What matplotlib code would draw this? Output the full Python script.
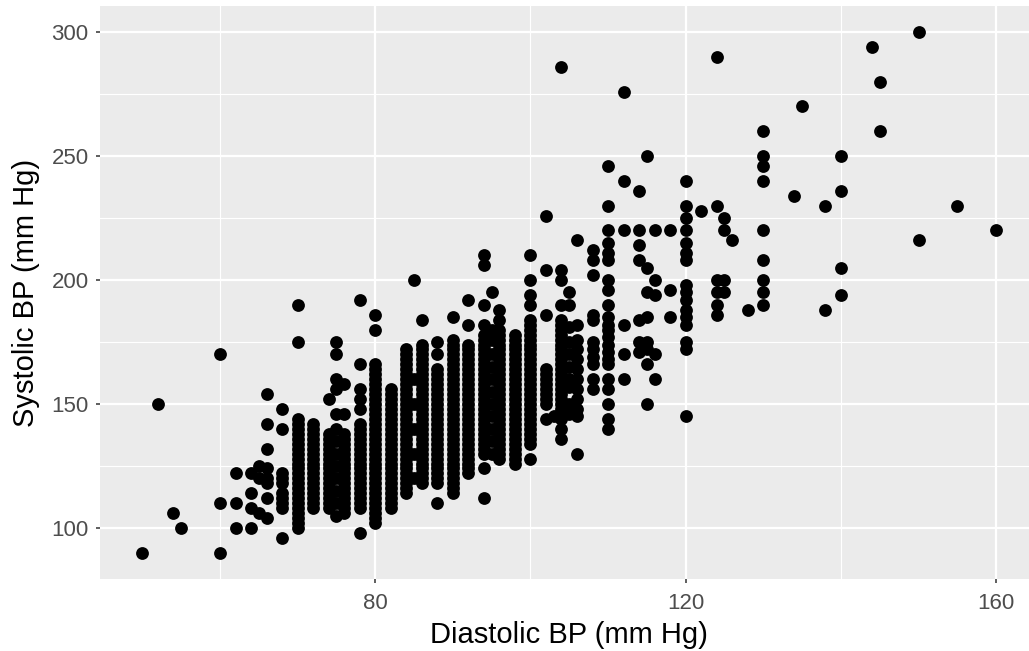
import matplotlib.pyplot as plt
from matplotlib.ticker import FixedLocator

# isolated readings (diastolic, systolic), mm Hg
sparse_dia = [50, 52, 54, 55, 60, 60, 60, 62, 62, 62, 64, 64, 64, 64,
              65, 65, 65, 66, 66, 66, 66, 66, 66, 66, 66,
              68, 68, 68, 68, 68, 68, 68, 68, 68, 68,
              103, 108, 108, 108, 108, 108, 108, 108, 108, 108, 108, 108,
              110, 110, 110, 110, 110, 110, 110, 110, 110, 110, 110,
              110, 110, 110, 110, 110, 110, 110, 110, 110, 110, 110,
              112, 112, 112, 112, 112, 112,
              114, 114, 114, 114, 114, 114, 114,
              115, 115, 115, 115, 115, 115, 115, 115,
              116, 116, 116, 116, 116, 118, 118, 118,
              120, 120, 120, 120, 120, 120, 120, 120, 120, 120, 120, 120,
              120, 120, 120, 120,
              122, 124, 124, 124, 124, 124, 124, 125, 125, 125, 125,
              126, 128, 130, 130, 130, 130, 130, 130, 130, 130, 130,
              134, 135, 138, 138, 140, 140, 140, 140, 144, 145, 145,
              150, 150, 155, 160]
sparse_sys = [90, 150, 106, 100, 170, 110, 90, 122, 110, 100, 122, 114, 108, 100,
              125, 120, 106, 154, 142, 132, 124, 120, 118, 112, 104,
              148, 140, 122, 120, 118, 114, 112, 110, 108, 96,
              145, 212, 208, 202, 186, 184, 175, 172, 169, 166, 160, 156,
              246, 230, 220, 215, 211, 208, 200, 196, 190, 185, 182,
              180, 177, 174, 171, 168, 166, 160, 156, 150, 144, 140,
              276, 240, 220, 182, 170, 160,
              236, 220, 214, 208, 184, 175, 171,
              250, 205, 195, 185, 175, 172, 166, 150,
              220, 200, 194, 170, 160, 220, 196, 185,
              240, 230, 225, 220, 215, 211, 208, 198, 195, 192, 188, 185,
              182, 175, 172, 145,
              228, 290, 230, 200, 195, 190, 186, 225, 220, 200, 195,
              216, 188, 260, 250, 246, 240, 220, 208, 200, 195, 190,
              234, 270, 230, 188, 250, 236, 205, 194, 294, 280, 260,
              300, 216, 230, 220]

# densely recorded diastolic values and their systolic readings
dense_dia = [70, 72, 74, 75, 76, 78, 80, 82, 84, 85, 86, 88, 90, 92, 94, 95,
             96, 98, 100, 102, 104, 105, 106]
dense_sys = [
    [190, 175, 144, 142, 140, 138, 136, 134, 132, 130, 128, 126, 124, 122, 120,
     118, 116, 114, 112, 110, 108, 106, 104, 102, 100],
    [142, 140, 138, 136, 134, 132, 130, 128, 126, 124, 122, 120, 118, 116, 114,
     112, 110, 108],
    [152, 138, 136, 134, 132, 130, 128, 126, 124, 122, 120, 118, 116, 114, 112,
     110, 108],
    [175, 170, 160, 156, 146, 140, 135, 130, 125, 120, 115, 110, 105],
    [158, 146, 138, 136, 134, 132, 130, 128, 126, 124, 122, 120, 118, 116, 114,
     112, 110, 108, 106],
    [192, 166, 156, 152, 148, 142, 140, 138, 136, 134, 132, 130, 128, 126, 124,
     122, 120, 118, 116, 114, 112, 110, 108, 98],
    [186, 180, 166, 164, 162, 160, 158, 156, 154, 152, 150, 148, 146, 144, 142,
     140, 138, 136, 134, 132, 130, 128, 126, 124, 122, 120, 118, 116, 114, 112,
     110, 108, 106, 104, 102],
    [156, 154, 152, 150, 148, 146, 144, 142, 140, 138, 136, 134, 132, 130, 128,
     126, 124, 122, 120, 118, 116, 114, 112, 110, 108],
    [172, 170, 168, 166, 164, 162, 160, 158, 156, 154, 152, 150, 148, 146, 144,
     142, 140, 138, 136, 134, 132, 130, 128, 126, 124, 122, 120, 118, 116, 114],
    [200, 160, 150, 140, 130, 120],
    [184, 174, 172, 170, 168, 166, 164, 162, 160, 158, 156, 154, 152, 150, 148,
     146, 144, 142, 140, 138, 136, 134, 132, 130, 128, 126, 124, 122, 120, 118],
    [175, 170, 164, 162, 160, 158, 156, 154, 152, 150, 148, 146, 144, 142, 140,
     138, 136, 134, 132, 130, 128, 126, 124, 122, 120, 118, 110],
    [185, 176, 174, 172, 170, 168, 166, 164, 162, 160, 158, 156, 154, 152, 150,
     148, 146, 144, 142, 140, 138, 136, 134, 132, 130, 128, 126, 124, 122, 120,
     118, 116, 114],
    [192, 182, 174, 172, 170, 168, 166, 164, 162, 160, 158, 156, 154, 152, 150,
     148, 146, 144, 142, 140, 138, 136, 134, 132, 130, 128, 126, 124, 122],
    [210, 206, 190, 182, 178, 176, 174, 172, 170, 168, 166, 164, 162, 160, 158,
     156, 154, 152, 150, 148, 146, 144, 142, 140, 138, 136, 134, 132, 130, 124,
     112],
    [195, 180, 176, 170, 165, 160, 155, 150, 145, 140, 135, 130],
    [188, 184, 180, 178, 176, 174, 172, 170, 168, 166, 164, 162, 160, 158, 156,
     154, 152, 150, 148, 146, 144, 142, 140, 138, 136, 134, 132, 130, 128],
    [178, 176, 174, 172, 170, 168, 166, 164, 162, 160, 158, 156, 154, 152, 150,
     148, 146, 144, 142, 140, 138, 136, 134, 132, 130, 128, 126],
    [210, 200, 194, 190, 184, 182, 180, 178, 176, 174, 172, 170, 168, 166, 164,
     162, 160, 158, 156, 154, 152, 150, 148, 146, 144, 142, 140, 138, 136, 134,
     128],
    [226, 204, 186, 164, 162, 160, 158, 156, 154, 152, 150, 144],
    [286, 204, 200, 190, 184, 182, 180, 178, 176, 174, 172, 170, 168, 166, 164,
     162, 160, 158, 156, 154, 152, 150, 148, 146, 144, 140, 136],
    [195, 190, 181, 175, 170, 165, 160, 157, 150, 146],
    [216, 182, 176, 172, 168, 164, 160, 156, 152, 148, 145, 130],
]

x_ticks = [80, 120, 160]
y_ticks = [100, 150, 200, 250, 300]

plt.rcParams['font.family'] = ['Liberation Sans', 'DejaVu Sans']

xs = list(sparse_dia)
ys = list(sparse_sys)
for d, col in zip(dense_dia, dense_sys):
    xs += [d] * len(col)
    ys += col

fig = plt.figure(figsize=(10.29, 6.51), dpi=100)
# panel runs slightly past the right edge of the canvas, as in the original
ax = fig.add_axes([99.7 / 1029, 72 / 651, 939.1 / 1029, 573 / 651])
ax.set_facecolor('#EBEBEB')
for s in ax.spines.values():
    s.set_visible(False)

ax.scatter(xs, ys, s=85, color='black', linewidths=0, zorder=3)

ax.set_xlim(44.5, 165.5)
ax.set_ylim(79.44, 310.5)
ax.set_xticks(x_ticks)
ax.set_yticks(y_ticks)
ax.xaxis.set_minor_locator(FixedLocator([60, 100, 140]))
ax.yaxis.set_minor_locator(FixedLocator([125, 175, 225, 275]))
ax.grid(which='major', color='white', linewidth=1.6, zorder=1)
ax.grid(which='minor', color='white', linewidth=0.8, zorder=1)
ax.set_axisbelow(True)
ax.tick_params(which='major', length=3, width=1.1, color='#333333',
               labelsize=16, labelcolor='#4D4D4D', pad=5)
ax.tick_params(axis='x', which='major', pad=7)
ax.tick_params(which='minor', length=0)

ax.set_xlabel('Diastolic BP (mm Hg)', fontsize=21, color='black', labelpad=5)
ax.set_ylabel('Systolic BP (mm Hg)', fontsize=21, color='black', labelpad=8)

fig.savefig('out.png', dpi=100)
